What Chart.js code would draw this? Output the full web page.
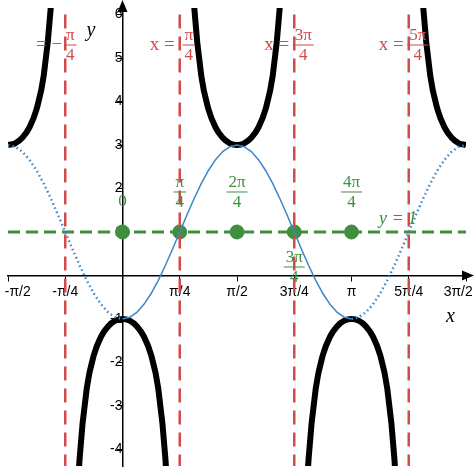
<!DOCTYPE html>
<html>
<head>
<meta charset="utf-8">
<script src="https://cdn.jsdelivr.net/npm/chart.js@4.4.0/dist/chart.umd.min.js"></script>
<style>
  html, body { margin: 0; padding: 0; background: #fff; }
  #wrap { width: 474px; height: 474px; }
</style>
</head>
<body>
<div id="wrap"><canvas id="c"></canvas></div>
<script>
const PI = Math.PI;
const STEP = PI / 32; // x positions are stored in units of pi/32

// y = 1 - 2cos(2x), rising half period (x = 0 .. pi/2 in steps of pi/32)
const blueRise = [-1, -0.962, -0.848, -0.663, -0.414, -0.111, 0.235, 0.610, 1,
                  1.390, 1.765, 2.111, 2.414, 2.663, 2.848, 2.962, 3];

// y = 1 - 2sec(2x), offsets from branch vertex (units of pi/32)
const secOffsets = [0, 1, 2, 3, 4, 5, 6, 6.5, 7, 7.5];
const secUp = [3, 3.039, 3.165, 3.405, 3.828, 4.600, 6.226, 7.89, 11.25, 21.4];
const secDown = [-1, -1.039, -1.165, -1.405, -1.828, -2.600, -4.226, -5.89, -9.25, -19.4];

const branches = [
  { c: -16, sides: [1], vals: secUp },
  { c: 0, sides: [-1, 1], vals: secDown },
  { c: 16, sides: [-1, 1], vals: secUp },
  { c: 32, sides: [-1, 1], vals: secDown },
  { c: 48, sides: [-1], vals: secUp }
];

const asymptotes = [-PI / 4, PI / 4, 3 * PI / 4, 5 * PI / 4];
const greenX = [0, PI / 4, PI / 2, 3 * PI / 4, PI];
const xTickVals = [-PI / 2, -PI / 4, PI / 4, PI / 2, 3 * PI / 4, PI, 5 * PI / 4, 3 * PI / 2];
const xTickLabels = ['\u00a0\u00a0\u00a0\u00a0\u00a0-π/2', '-π/4', 'π/4', 'π/2', '3π/4', 'π', '5π/4', '3π/2\u00a0\u00a0\u00a0\u00a0'];
const yTickVals = [-4, -3, -2, -1, 1, 2, 3, 4, 5, 6];

function branchPoints(b) {
  let pts = [];
  b.sides.forEach(s => {
    let side = secOffsets.map((o, i) => ({ x: (b.c + s * o) * STEP, y: b.vals[i] }));
    if (s < 0) side.reverse();
    pts = s < 0 ? side.concat(pts) : pts.concat(side.slice(pts.length ? 1 : 0));
  });
  return pts;
}

const blueSolid = blueRise.map((y, i) => ({ x: i * STEP, y }))
  .concat(blueRise.slice().reverse().slice(1).map((y, i) => ({ x: (17 + i) * STEP, y })));
const blueLeft = blueRise.slice().reverse().map((y, i) => ({ x: (-16 + i) * STEP, y }));
const blueRight = blueRise.map((y, i) => ({ x: (32 + i) * STEP, y }));

const RED = '#d14b4b';
const GREEN = '#3f8f3f';
const BLUE = '#3a86c8';
const SERIF = '"Liberation Serif", serif';

const datasets = [];
asymptotes.forEach(a => datasets.push({
  data: [{ x: a, y: -10 }, { x: a, y: 10 }], borderColor: RED, borderWidth: 2.5,
  borderDash: [14, 8], pointRadius: 0
}));
datasets.push({ data: blueSolid, borderColor: BLUE, borderWidth: 1.5, pointRadius: 0 });
datasets.push({ data: blueLeft, borderColor: BLUE, borderWidth: 2.5, borderDash: [1.5, 3], pointRadius: 0 });
datasets.push({ data: blueRight, borderColor: BLUE, borderWidth: 2.5, borderDash: [1.5, 3], pointRadius: 0 });
branches.forEach(b => datasets.push({
  data: branchPoints(b), borderColor: '#000', borderWidth: 6, pointRadius: 0, cubicInterpolationMode: 'monotone'
}));
datasets.push({
  data: [{ x: -PI / 2, y: 1 }, { x: 3 * PI / 2, y: 1 }], borderColor: GREEN, borderWidth: 3,
  borderDash: [12, 6], pointRadius: 0
});
datasets.push({
  data: greenX.map(x => ({ x, y: 1 })), showLine: false, pointRadius: 7,
  backgroundColor: GREEN, borderColor: GREEN
});

function frac(ctx, num, den, x, y, color, size) {
  ctx.save();
  ctx.fillStyle = color; ctx.strokeStyle = color;
  ctx.font = `${size}px ${SERIF}`;
  ctx.textAlign = 'center';
  const w = Math.max(ctx.measureText(num).width, ctx.measureText(den).width) + 4;
  ctx.textBaseline = 'bottom'; ctx.fillText(num, x, y - 1);
  ctx.textBaseline = 'top'; ctx.fillText(den, x, y + 2);
  ctx.lineWidth = 1; ctx.beginPath(); ctx.moveTo(x - w / 2, y); ctx.lineTo(x + w / 2, y); ctx.stroke();
  ctx.restore();
}

const overlay = {
  id: 'overlay',
  afterDraw(chart) {
    const ctx = chart.ctx, xs = chart.scales.x, ys = chart.scales.y;
    const ox = xs.getPixelForValue(0), oy = ys.getPixelForValue(0);
    ctx.save();
    ctx.fillStyle = '#000';
    ctx.beginPath(); ctx.moveTo(ox, 0); ctx.lineTo(ox - 5, 12); ctx.lineTo(ox + 5, 12); ctx.fill();
    ctx.beginPath(); ctx.moveTo(474, oy); ctx.lineTo(462, oy - 5); ctx.lineTo(462, oy + 5); ctx.fill();
    ctx.font = `italic 20px ${SERIF}`;
    ctx.fillText('y', ox - 36, 36);
    ctx.fillText('x', 446, oy + 47);
    const ly = 45;
    ctx.font = `19px ${SERIF}`;
    const lab = ['−π', 'π', '3π', '5π'];
    lab.forEach((n, i) => {
      const px = xs.getPixelForValue(asymptotes[i]);
      ctx.textAlign = 'right'; ctx.textBaseline = 'middle';
      ctx.fillStyle = RED;
      const fx = px + 9;
      if (i === 0) {
        ctx.fillText('= −', fx - 12, ly);
        frac(ctx, 'π', '4', fx - 4, ly, RED, 17);
      } else {
        ctx.fillText('x =', fx - 14, ly);
        frac(ctx, n, '4', fx, ly, RED, 17);
      }
    });
    const gy = ys.getPixelForValue(1);
    ctx.fillStyle = GREEN; ctx.textAlign = 'center'; ctx.textBaseline = 'alphabetic';
    ctx.font = `17px ${SERIF}`;
    ctx.fillText('0', xs.getPixelForValue(0), gy - 26);
    frac(ctx, 'π', '4', xs.getPixelForValue(PI / 4), gy - 40, GREEN, 17);
    frac(ctx, '2π', '4', xs.getPixelForValue(PI / 2), gy - 40, GREEN, 17);
    frac(ctx, '3π', '4', xs.getPixelForValue(3 * PI / 4), gy + 35, GREEN, 17);
    frac(ctx, '4π', '4', xs.getPixelForValue(PI), gy - 40, GREEN, 17);
    ctx.font = `italic 18px ${SERIF}`;
    ctx.fillText('y = 1', 398, gy - 8);
    ctx.restore();
  }
};

new Chart(document.getElementById('c'), {
  type: 'scatter',
  data: { datasets },
  options: {
    responsive: true, maintainAspectRatio: false, animation: false,
    layout: { padding: 0 },
    datasets: { scatter: { showLine: true } },
    plugins: { legend: { display: false }, tooltip: { enabled: false } },
    scales: {
      x: {
        type: 'linear', min: -PI / 2, max: 3 * PI / 2, position: { y: 0 },
        grid: { drawOnChartArea: false, color: '#000', tickLength: 5 },
        border: { color: '#000', width: 1.5 },
        afterBuildTicks: s => { s.ticks = xTickVals.map(v => ({ value: v })); },
        afterFit: s => { s.paddingLeft = 0; s.paddingRight = 0; },
        ticks: {
          color: '#000', font: { size: 14, family: 'Liberation Sans' }, maxRotation: 0, autoSkip: false,
          callback: (v, i) => xTickLabels[i]
        }
      },
      y: {
        type: 'linear', min: -4.38, max: 6.15, position: { x: 0 },
        grid: { drawOnChartArea: false, color: '#000', tickLength: 5 },
        border: { color: '#000', width: 1.5 },
        afterBuildTicks: s => { s.ticks = yTickVals.map(v => ({ value: v })); },
        afterFit: s => { s.paddingTop = 0; s.paddingBottom = 0; },
        ticks: { color: '#000', font: { size: 14, family: 'Liberation Sans' }, autoSkip: false }
      }
    }
  },
  plugins: [overlay]
});
</script>
</body>
</html>
